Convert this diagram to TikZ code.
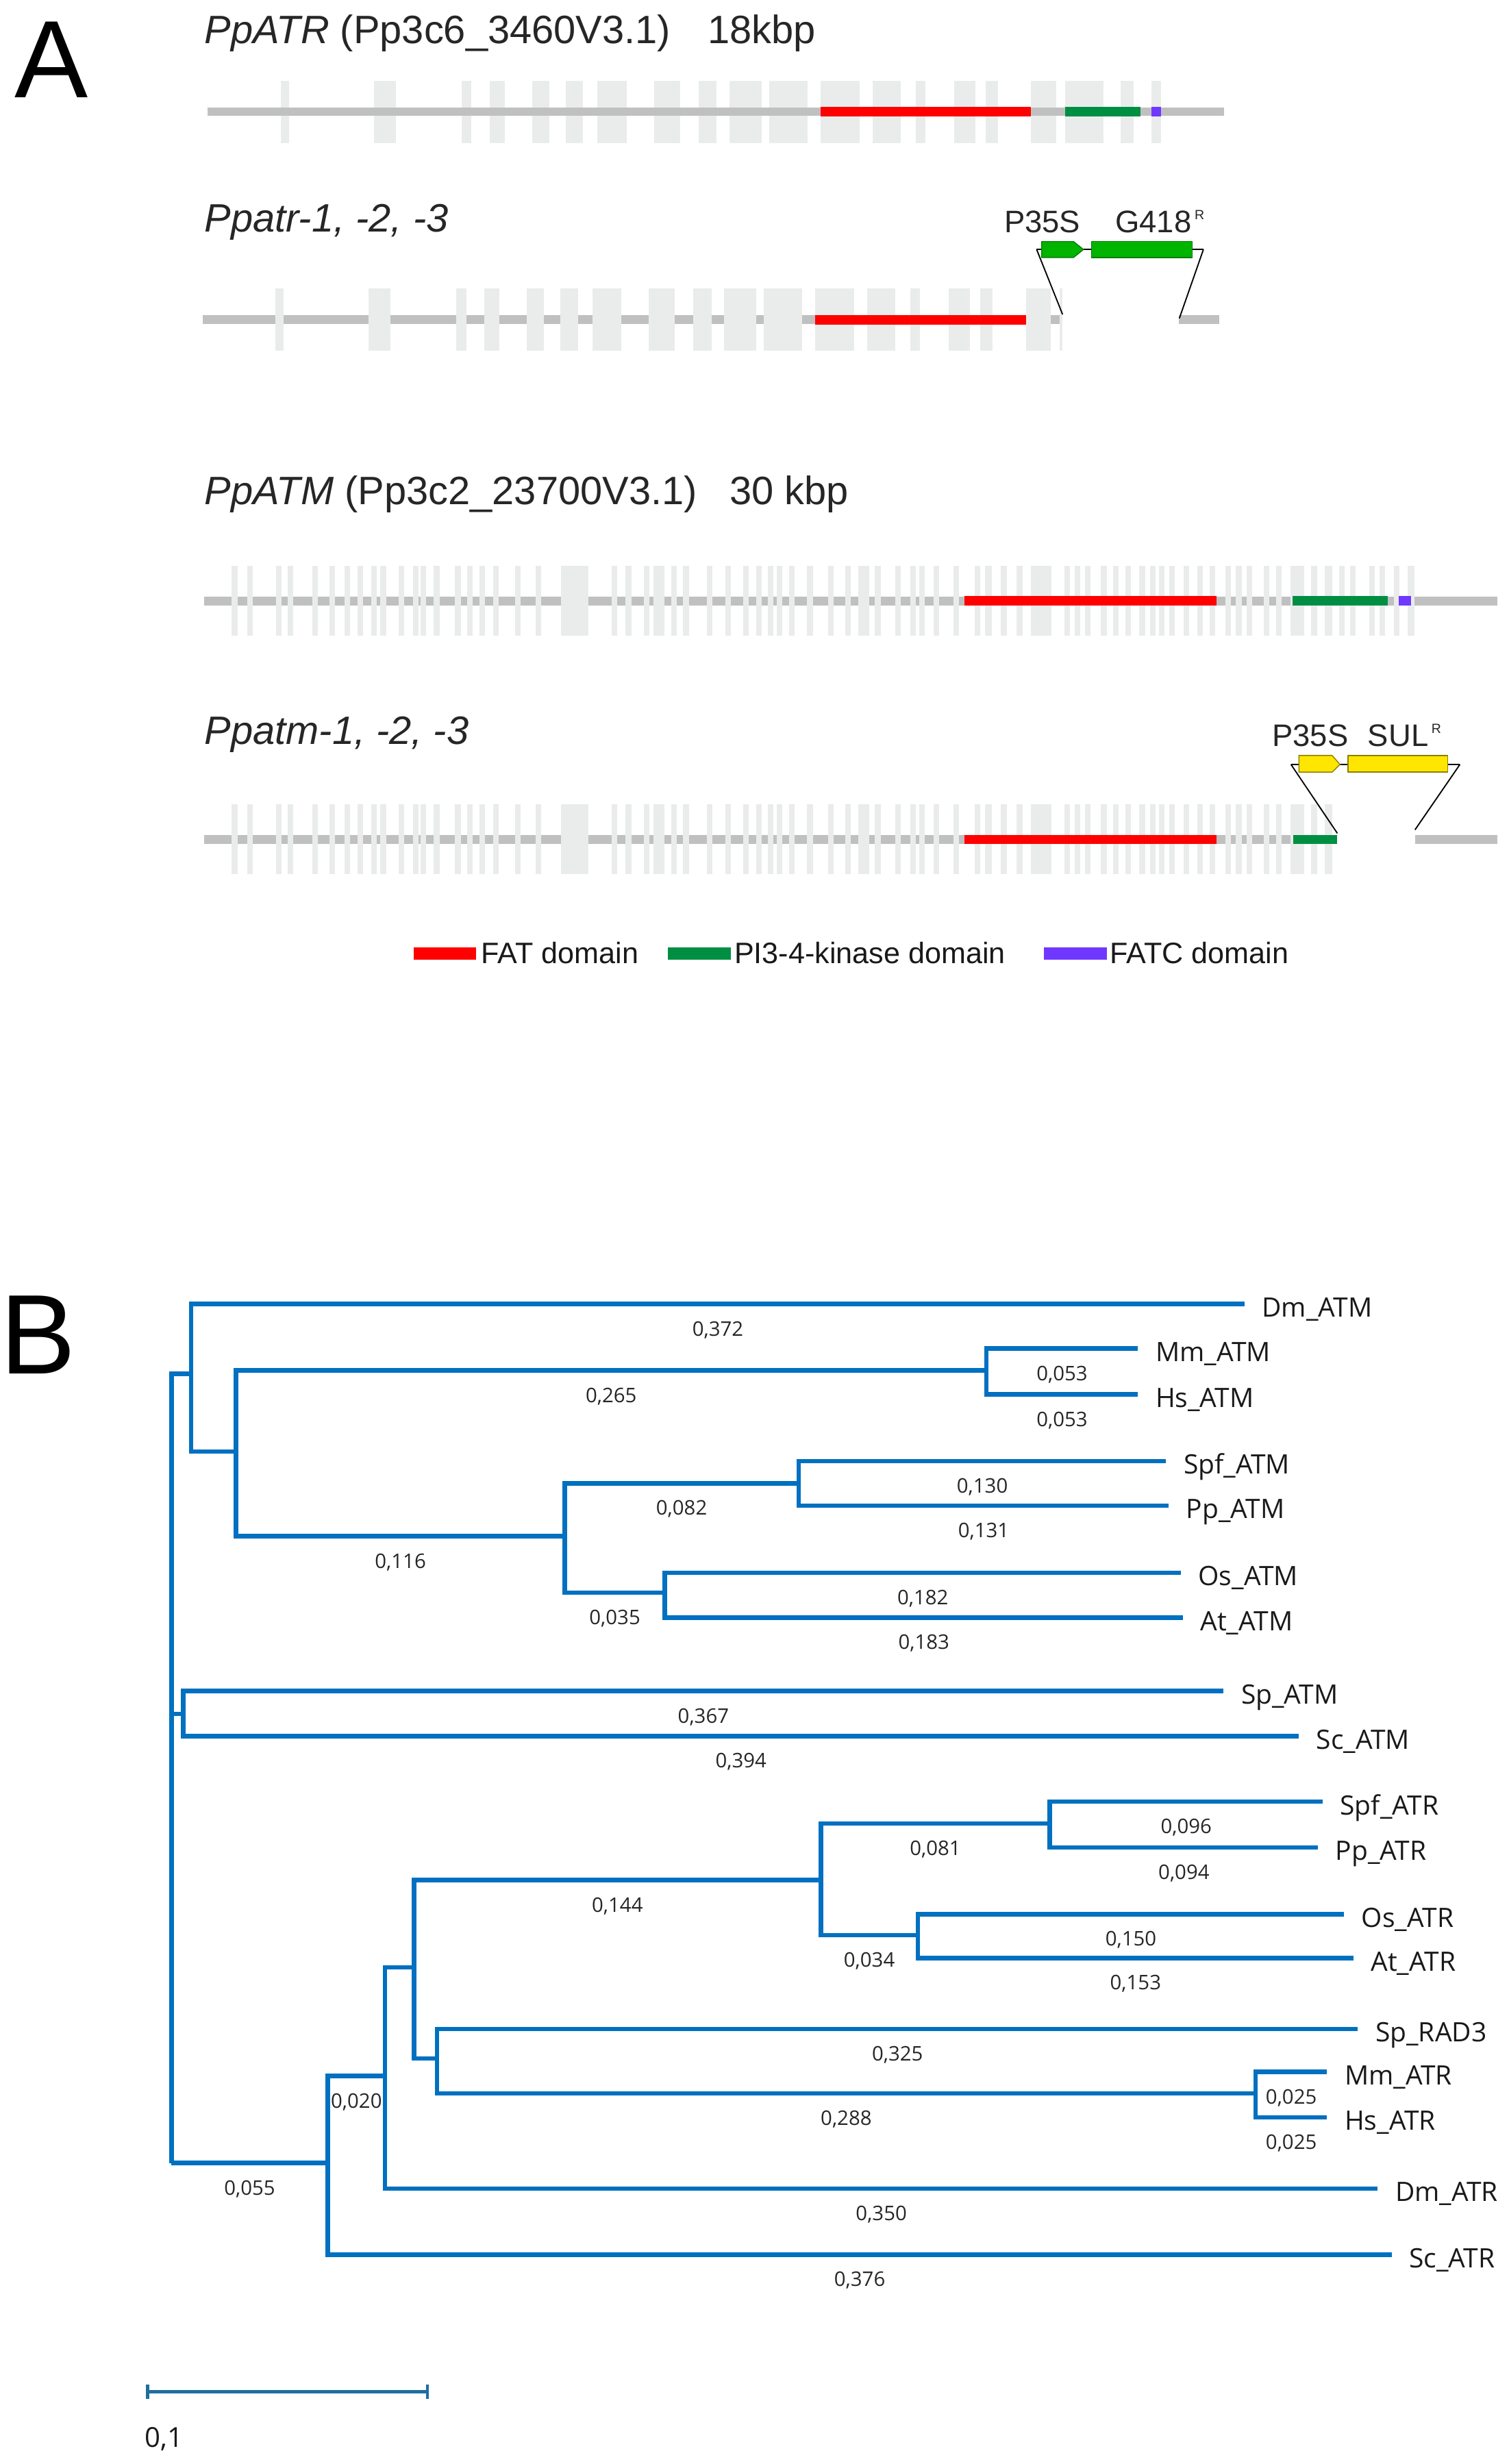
\documentclass[tikz,border=0pt]{standalone}
\usepackage{fontspec}
\setmainfont{Liberation Sans}
\newfontfamily\treefont{Open Sans}
\usetikzlibrary{arrows.meta}

\definecolor{exongray}{RGB}{234,236,236}
\definecolor{linegray}{RGB}{192,192,192}
\definecolor{fatred}{RGB}{255,0,0}
\definecolor{kinasegreen}{RGB}{0,143,66}
\definecolor{fatcpurple}{RGB}{112,56,255}
\definecolor{neogreen}{RGB}{0,180,0}
\definecolor{sulyellow}{RGB}{255,230,0}
\definecolor{treeblue}{RGB}{0,112,192}
\definecolor{barblue}{RGB}{31,110,160}

% exon positions, PpATR (line 1 coordinates)
\def\atrexons{178.6/184,238/252,293.6/300,311.6/321,338.7/349.5,360/371,380.2/398.7,416/432.8,444.4/456,464/484.4,489.5/513.8,522/547,555/573,582.6/588.6,607/620.5,627/635,656/672,677.6/702,713/721,732.6/738.6}
% exon positions, PpATM
\def\atmnarrow{147.5,157.2,175.4,183,198.7,209.6,219,227.5,236,242,253.6,262.7,267.6,276,289.5,297,305,313.8,327.6,340.7,389,398,409.7,427,434.6,449.7,461.4,472.8,480.9,488.5,494,502,513.5,526.7,537.6,556.6,569.5,579,584.8,594,606.5,620,636.8,646.8,677,683.6,690.3,700.4,708.2,716,724.9,731.6,737.2,743.9,752.8,761.7,769.5,779.6,786.3,793,804.1,811.9,834.2,852,858.8,871,877.7,886.6}
\def\atmwide{356.7/374.3,415.7/422.5,546.2/553.2,626.7/631.2,655.7/669.1,820.8/829.8,843/847.6,895.6/900}

\newcommand{\resist}[1]{\hspace{2pt}\raisebox{#1}{\fontsize{8.5}{8.5}\selectfont R}}

\tikzset{
  exon/.style={fill=exongray},
  intron/.style={draw=linegray, line width=5.5pt},
  protdomain/.style={line width=6pt},
  insline/.style={draw=black, line width=0.8pt},
  neobox/.style={fill=neogreen, draw=neogreen!70!black, line width=0.6pt},
  sulbox/.style={fill=sulyellow, draw=sulyellow!55!black, line width=0.6pt},
  panel/.style={anchor=base west, inner sep=0pt, font=\fontsize{70}{70}\selectfont},
  title/.style={anchor=base west, inner sep=0pt, font=\fontsize{25.2}{25.2}\selectfont, text=black!85},
  cassette/.style={inner sep=0pt, font=\fontsize{19.8}{19.8}\selectfont, text=black!85},
  legbar/.style={line width=8pt},
  legtext/.style={anchor=base west, inner sep=0pt, font=\fontsize{18.8}{18.8}\selectfont, text=black!90},
}

\begin{document}
\begin{tikzpicture}[%
      x=1pt, y=-1pt,
      branch/.style={draw=treeblue, line width=2.8pt},
      taxon/.style={anchor=base west, inner sep=0pt, xshift=11pt, yshift=-8.2pt,
        font=\treefont\fontsize{17}{17}\selectfont, text=black!90},
      blen/.style={pos=0.75, anchor=base, inner sep=0pt, yshift=-20.3pt,
        font=\treefont\fontsize{12.8}{12.8}\selectfont, text=black!85},
      scalebar/.style={draw=barblue, line width=2pt, arrows={Bar[width=9pt]-Bar[width=9pt]}},
      ]
      \useasboundingbox (0,0) rectangle (960,1567.5);

      % ---------------- A ----------------
      \node[panel] (pa) at (9,62) {A};

      \node[title] (tatr) at (130,27.6) {\textit{PpATR} (Pp3c6\_3460V3.1)};
      \node[title] (katr) at (450,27.6) {18kbp};
      \node[title] (tatrm) at (130,147.6) {\textit{Ppatr-1, -2, -3}};
      \node[title] (tatm) at (130,321) {\textit{PpATM} (Pp3c2\_23700V3.1)};
      \node[title] (katm) at (464,321) {30 kbp};
      \node[title] (tatmm) at (130,473.6) {\textit{Ppatm-1, -2, -3}};

      % PpATR
      \begin{scope}[shift={(0,71)}]
        \foreach \a/\b in \atrexons \fill[exon] (\a,-19.4) rectangle (\b,20);
        \draw[intron] (132,0) -- (778.6,0);
        \draw[protdomain, fatred] (522,0) -- (656,0);
        \draw[protdomain, kinasegreen] (677.6,0) -- (725.5,0);
        \draw[protdomain, fatcpurple] (732.6,0) -- (738.6,0);
      \end{scope}

      % Ppatr mutant
      \begin{scope}[shift={(-3.4,203.4)}]
        \draw[intron] (132.4,0) -- (779,0);
        \foreach \a/\b in \atrexons \fill[exon] (\a,-19.8) rectangle (\b,19.6);
        \draw[protdomain, fatred] (522,0) -- (656,0);
        \fill[white] (679.4,-24) rectangle (753.4,24);
      \end{scope}

      \draw[insline] (659.5,158.7) -- (765.6,158.7);
      \draw[insline] (659.5,158.7) -- (676,200);
      \draw[insline] (765.6,158.7) -- (750.3,202.5);
      \filldraw[neobox] (662.7,153.7) -- (683,153.7) -- (689.3,158.7) -- (683,163.8) -- (662.7,163.8) -- cycle;
      \filldraw[neobox] (694.4,153.7) rectangle (758.4,163.8);
      \node[cassette, anchor=base] (p35a) at (663.1,148) {P35S};
      \node[cassette, anchor=base west] (g418) at (709.4,148) {G418\resist{8.4pt}};

      % PpATM
      \begin{scope}[shift={(0,382.3)}]
        \draw[intron] (130,0) -- (952.5,0);
        \foreach \a in \atmnarrow \fill[exon] (\a,-22.2) rectangle ({\a+3.6},22.2);
        \foreach \a/\b in \atmwide \fill[exon] (\a,-22.2) rectangle (\b,22.2);
        \draw[protdomain, fatred] (613.4,0) -- (773.9,0);
        \draw[protdomain, kinasegreen] (822.4,0) -- (882.7,0);
        \draw[protdomain, fatcpurple] (890,0) -- (897.8,0);
      \end{scope}

      % Ppatm mutant
      \begin{scope}[shift={(0,534)}]
        \draw[intron] (130,0) -- (952.5,0);
        \foreach \a in \atmnarrow \fill[exon] (\a,-22.2) rectangle ({\a+3.6},22.2);
        \foreach \a/\b in \atmwide \fill[exon] (\a,-22.2) rectangle (\b,22.2);
        \draw[protdomain, fatred] (613.4,0) -- (773.9,0);
        \draw[protdomain, kinasegreen] (822.6,0) -- (850.8,0);
        \fill[white] (850.8,-24) rectangle (900.2,24);
      \end{scope}

      \draw[insline] (821.3,486.3) -- (928.8,486.3);
      \draw[insline] (821.3,486.3) -- (850.8,530.1);
      \draw[insline] (928.8,486.3) -- (900.2,527.9);
      \filldraw[sulbox] (826.4,480.6) -- (847.5,480.6) -- (852.5,486.3) -- (847.5,491.2) -- (826.4,491.2) -- cycle;
      \filldraw[sulbox] (857.6,480.6) rectangle (921,491.2);
      \node[cassette, anchor=base] (p35b) at (833.6,474.9) {P35S};
      \node[cassette, anchor=base west] (sul) at (870,474.9) {SUL\resist{8.4pt}};

      % legend
      \draw[legbar, fatred] (263,606.6) -- (303,606.6);
      \node[legtext] (lfat) at (306,613) {FAT domain};
      \draw[legbar, kinasegreen] (425,606.6) -- (465,606.6);
      \node[legtext] (lpik) at (467,613) {PI3-4-kinase domain};
      \draw[legbar, fatcpurple] (664,606.6) -- (704,606.6);
      \node[legtext] (lfatc) at (706,613) {FATC domain};

      % ---------------- B ----------------
      \node[panel, font=\fontsize{72}{72}\selectfont] (pb) at (0,874) {B};

      \coordinate (root) at (109.1,1376);
      \coordinate (natm) at (121.7,873.9);
      \coordinate (natm2) at (150.2,923.5);
      \coordinate (nmamatm) at (627.4,871.8);
      \coordinate (nplatm) at (359.3,977.3);
      \coordinate (nmossatm) at (508,943.6);
      \coordinate (nangatm) at (423,1013.3);
      \coordinate (nyatm) at (116.5,1090.3);
      \coordinate (natr) at (208.6,1376);
      \coordinate (natr2) at (244.9,1320.7);
      \coordinate (natr3) at (263.4,1251.5);
      \coordinate (nplatr) at (522.2,1196);
      \coordinate (nmossatr) at (667.9,1160);
      \coordinate (nangatr) at (583.9,1231);
      \coordinate (nsprad) at (278,1309.6);
      \coordinate (nmamatr) at (798.7,1331.8);

      \coordinate (dmatm) at (791.7,829.5);
      \coordinate (mmatm) at (724,857.8);
      \coordinate (hsatm) at (724,887.1);
      \coordinate (spfatm) at (741.9,929.4);
      \coordinate (ppatm) at (743.5,957.8);
      \coordinate (osatm) at (751.2,1000.5);
      \coordinate (atatm) at (752.5,1029);
      \coordinate (spatm) at (778.5,1075.7);
      \coordinate (scatm) at (826.3,1104.4);
      \coordinate (spfatr) at (841.4,1146.2);
      \coordinate (ppatr) at (838.5,1175.2);
      \coordinate (osatr) at (855.1,1217.7);
      \coordinate (atatr) at (861,1245.6);
      \coordinate (sprad) at (863.9,1290.7);
      \coordinate (mmatr) at (844.3,1318);
      \coordinate (hsatr) at (844.3,1347);
      \coordinate (dmatr) at (876.5,1392.3);
      \coordinate (scatr) at (885.3,1434.3);

      \draw[branch] (root) |- (natm);
      \draw[branch] (root) |- (nyatm);
      \draw[branch] (root) |- node[blen] (bnatr) {0,055} (natr);

      \draw[branch] (natm) |- node[blen] (bdmatm) {0,372} (dmatm);
      \draw[branch] (natm) |- (natm2);
      \draw[branch] (natm2) |- node[blen] (bnmamatm) {0,265} (nmamatm);
      \draw[branch] (natm2) |- node[blen] (bnplatm) {0,116} (nplatm);
      \draw[branch] (nmamatm) |- node[blen] (bmmatm) {0,053} (mmatm);
      \draw[branch] (nmamatm) |- node[blen] (bhsatm) {0,053} (hsatm);
      \draw[branch] (nplatm) |- node[blen] (bnmossatm) {0,082} (nmossatm);
      \draw[branch] (nplatm) |- node[blen] (bnangatm) {0,035} (nangatm);
      \draw[branch] (nmossatm) |- node[blen] (bspfatm) {0,130} (spfatm);
      \draw[branch] (nmossatm) |- node[blen] (bppatm) {0,131} (ppatm);
      \draw[branch] (nangatm) |- node[blen] (bosatm) {0,182} (osatm);
      \draw[branch] (nangatm) |- node[blen] (batatm) {0,183} (atatm);
      \draw[branch] (nyatm) |- node[blen] (bspatm) {0,367} (spatm);
      \draw[branch] (nyatm) |- node[blen] (bscatm) {0,394} (scatm);

      \draw[branch] (natr) |- node[blen] (bnatr2) {0,020} (natr2);
      \draw[branch] (natr) |- node[blen] (bscatr) {0,376} (scatr);
      \draw[branch] (natr2) |- (natr3);
      \draw[branch] (natr2) |- node[blen] (bdmatr) {0,350} (dmatr);
      \draw[branch] (natr3) |- node[blen] (bnplatr) {0,144} (nplatr);
      \draw[branch] (natr3) |- (nsprad);
      \draw[branch] (nplatr) |- node[blen] (bnmossatr) {0,081} (nmossatr);
      \draw[branch] (nplatr) |- node[blen] (bnangatr) {0,034} (nangatr);
      \draw[branch] (nmossatr) |- node[blen] (bspfatr) {0,096} (spfatr);
      \draw[branch] (nmossatr) |- node[blen] (bppatr) {0,094} (ppatr);
      \draw[branch] (nangatr) |- node[blen] (bosatr) {0,150} (osatr);
      \draw[branch] (nangatr) |- node[blen] (batatr) {0,153} (atatr);
      \draw[branch] (nsprad) |- node[blen] (bsprad) {0,325} (sprad);
      \draw[branch] (nsprad) |- node[blen] (bnmamatr) {0,288} (nmamatr);
      \draw[branch] (nmamatr) |- node[blen] (bmmatr) {0,025} (mmatr);
      \draw[branch] (nmamatr) |- node[blen] (bhsatr) {0,025} (hsatr);

      \foreach \c/\t in {dmatm/Dm\_ATM, mmatm/Mm\_ATM, hsatm/Hs\_ATM, spfatm/Spf\_ATM,
          ppatm/Pp\_ATM, osatm/Os\_ATM, atatm/At\_ATM, spatm/Sp\_ATM, scatm/Sc\_ATM,
          spfatr/Spf\_ATR, ppatr/Pp\_ATR, osatr/Os\_ATR, atatr/At\_ATR, sprad/Sp\_RAD3,
          mmatr/Mm\_ATR, hsatr/Hs\_ATR, dmatr/Dm\_ATR, scatr/Sc\_ATR}
        \node[taxon] (t\c) at (\c) {\t};

      % scale bar
      \coordinate (sbl) at (93,1521.6);
      \coordinate (sbr) at (273,1521.6);
      \draw[scalebar] (sbl) -- (sbr);
      \node[anchor=base west, inner sep=0pt, font=\treefont\fontsize{17.5}{17.5}\selectfont, text=black!90] (sblab) at (92,1557) {0,1};
      \end{tikzpicture}
\end{document}
